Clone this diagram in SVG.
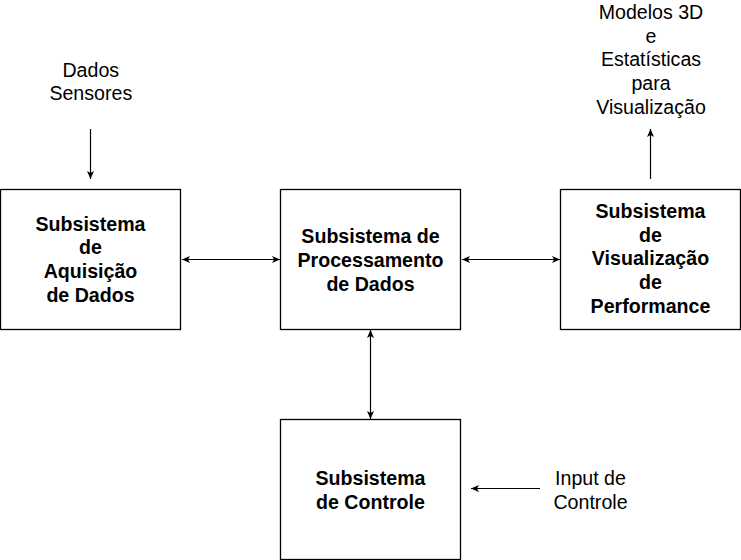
<svg xmlns="http://www.w3.org/2000/svg" width="741" height="560" viewBox="0 0 741 560">
<style>
.box{fill:#fff;stroke:#000;stroke-width:1.3}
.b{font-family:"Liberation Sans",Arial,sans-serif;font-weight:bold;font-size:19.6px;text-anchor:middle;fill:#000}
.r{font-family:"Liberation Sans",Arial,sans-serif;font-size:19.6px;text-anchor:middle;fill:#000}
.c{fill:none;stroke:#000;stroke-width:1.2}
</style>
<defs>
<marker id="ah" markerUnits="userSpaceOnUse" markerWidth="10" markerHeight="8" refX="8" refY="3.5" orient="auto-start-reverse" viewBox="0 0 10 8">
<path d="M0,0 L8,3.5 L0,7 L2,3.5 Z" fill="#000"/>
</marker>
</defs>
<rect width="741" height="560" fill="#fff"/>
<g id="connectors">
<line class="c" x1="90.5" y1="129" x2="90.5" y2="179" marker-end="url(#ah)"/>
<line class="c" x1="182" y1="259.5" x2="280" y2="259.5" marker-start="url(#ah)" marker-end="url(#ah)"/>
<line class="c" x1="462" y1="259.5" x2="560" y2="259.5" marker-start="url(#ah)" marker-end="url(#ah)"/>
<line class="c" x1="370.5" y1="330" x2="370.5" y2="419" marker-start="url(#ah)" marker-end="url(#ah)"/>
<line class="c" x1="650.5" y1="179" x2="650.5" y2="129" marker-end="url(#ah)"/>
<line class="c" x1="540" y1="488.5" x2="471" y2="488.5" marker-end="url(#ah)"/>
</g>
<g id="aquisicao">
<rect class="box" x="0.5" y="189.5" width="180" height="140"/>
<text class="b" x="90.5" y="230.5">Subsistema</text>
<text class="b" x="90.5" y="254.2">de</text>
<text class="b" x="90.5" y="277.9">Aquisição</text>
<text class="b" x="90.5" y="301.6">de Dados</text>
</g>
<g id="processamento">
<rect class="box" x="280.5" y="189.5" width="180" height="140"/>
<text class="b" x="370.5" y="243.3">Subsistema de</text>
<text class="b" x="370.5" y="267">Processamento</text>
<text class="b" x="370.5" y="290.7">de Dados</text>
</g>
<g id="visualizacao">
<rect class="box" x="560.5" y="189.5" width="180" height="140"/>
<text class="b" x="650.5" y="217.6">Subsistema</text>
<text class="b" x="650.5" y="241.5">de</text>
<text class="b" x="650.5" y="265.4">Visualização</text>
<text class="b" x="650.5" y="289.3">de</text>
<text class="b" x="650.5" y="313.2">Performance</text>
</g>
<g id="controle">
<rect class="box" x="280.5" y="419.5" width="180" height="140"/>
<text class="b" x="370.5" y="485">Subsistema</text>
<text class="b" x="370.5" y="508.6">de Controle</text>
</g>
<g id="dados-sensores">
<text class="r" x="90.8" y="77.2">Dados</text>
<text class="r" x="90.8" y="99.8">Sensores</text>
</g>
<g id="modelos">
<text class="r" x="651" y="19">Modelos 3D</text>
<text class="r" x="651" y="42.7">e</text>
<text class="r" x="651" y="66.4">Estatísticas</text>
<text class="r" x="651" y="90.1">para</text>
<text class="r" x="651" y="113.8">Visualização</text>
</g>
<g id="input">
<text class="r" x="590.5" y="485">Input de</text>
<text class="r" x="590.5" y="508.6">Controle</text>
</g>
</svg>
